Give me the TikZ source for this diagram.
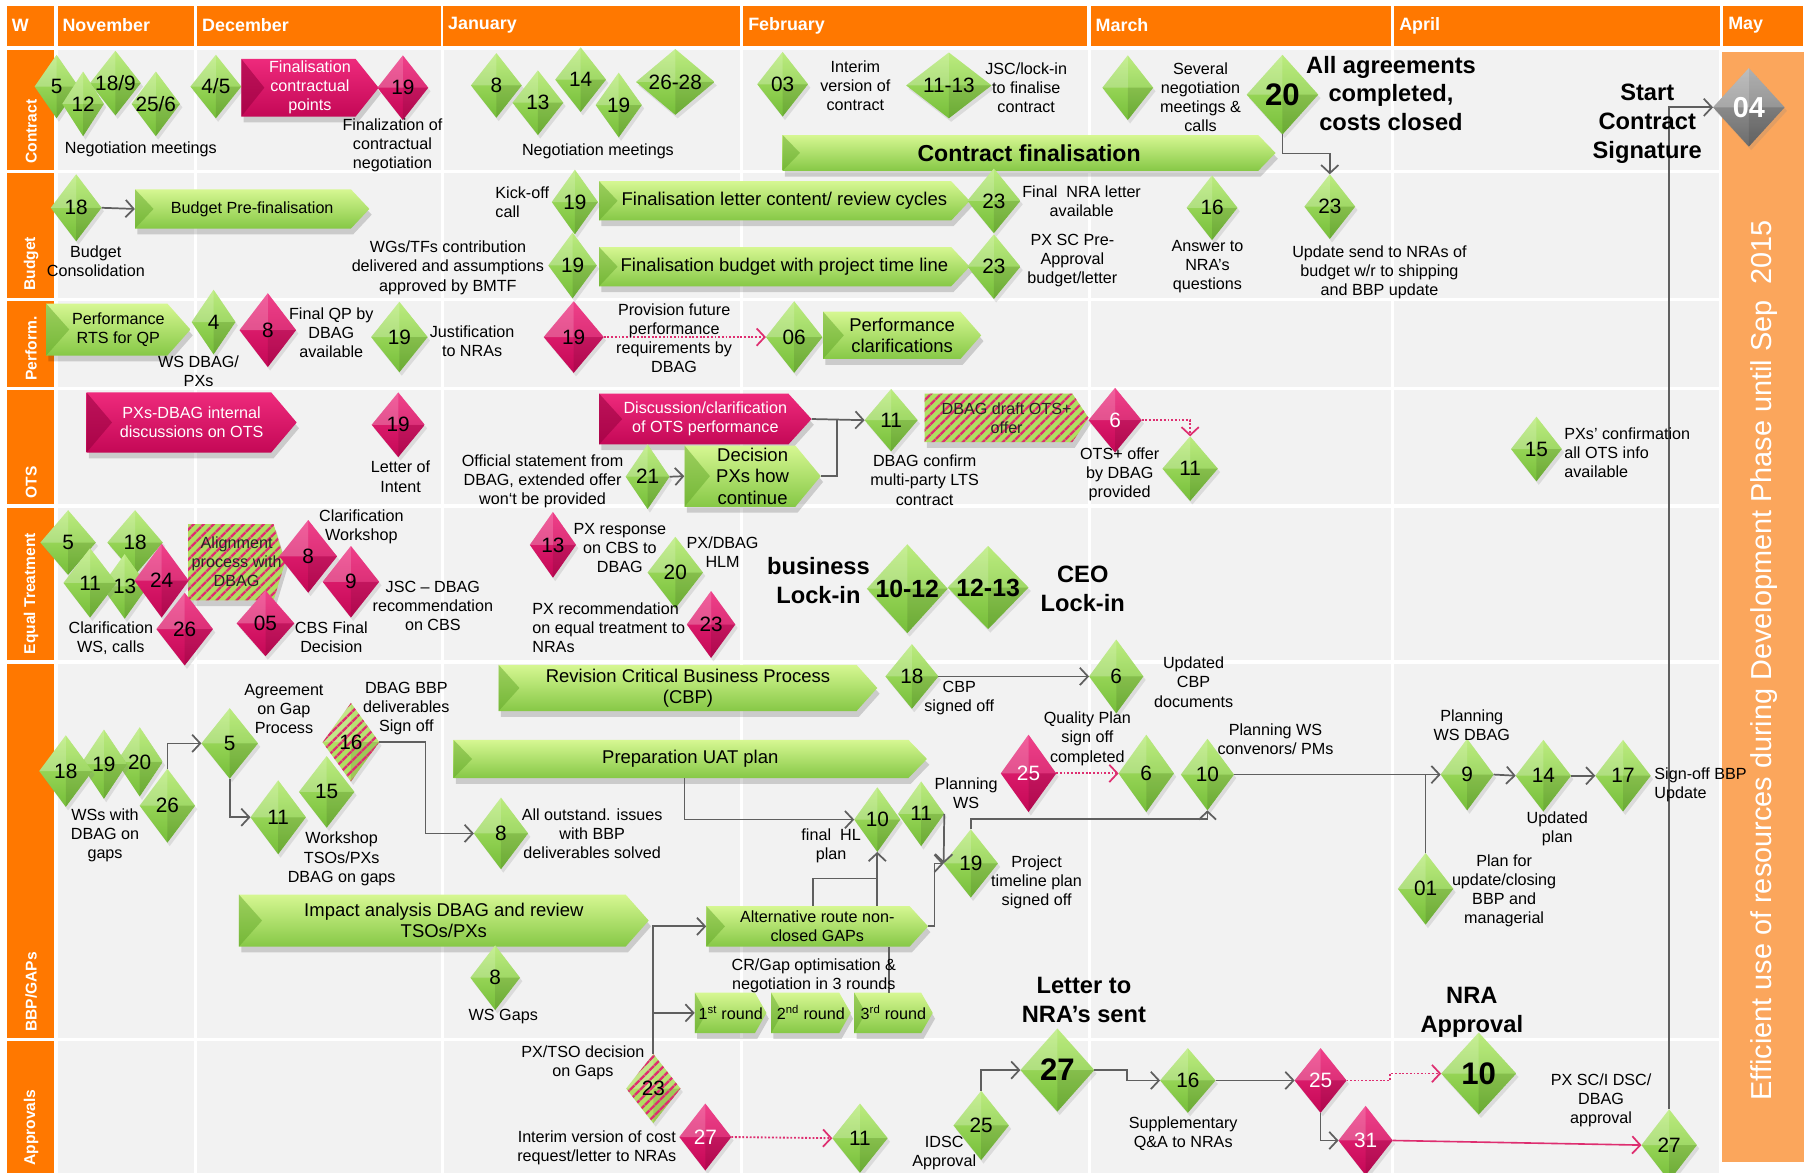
\documentclass[tikz,border=0pt]{standalone}
\usepackage{fontspec}
\setmainfont{Liberation Sans}
\usetikzlibrary{shapes.geometric,arrows.meta,patterns.meta,shadows,calc}

\definecolor{hdr}{RGB}{255,120,0}
\definecolor{barc}{RGB}{251,166,92}
\definecolor{bgc}{RGB}{242,242,242}
\definecolor{gtop}{RGB}{180,234,112}
\definecolor{gbot}{RGB}{118,190,58}
\definecolor{gbtop}{RGB}{214,247,146}
\definecolor{gbbot}{RGB}{134,200,70}
\definecolor{gbev}{RGB}{100,168,42}
\definecolor{mtop}{RGB}{238,42,124}
\definecolor{mbot}{RGB}{196,8,86}
\definecolor{mbev}{RGB}{150,0,62}
\definecolor{hgr}{RGB}{176,222,98}
\definecolor{hmg}{RGB}{222,46,112}
\definecolor{cgray}{RGB}{95,95,95}
\definecolor{gytop}{RGB}{168,168,168}
\definecolor{gybot}{RGB}{108,108,108}

\newcommand\qfA{\fontsize{14}{16.5}\selectfont}
\newcommand\qfB{\fontsize{16}{18.5}\selectfont}
\newcommand\qfC{\fontsize{20}{24}\selectfont\bfseries}
\newcommand\qfBig{\fontsize{20.5}{25}\selectfont\bfseries}

% diamond: style, label style, name, x, y, w, h, text
\newcommand\dia[8]{\node[#1, minimum width=#6pt, minimum height=#7pt, label={[#2]center:#8}] (#3) at (#4,#5) {};}
% box: type, name, x1, y1, x2, y2, point, font, text
\newcommand\bx[9]{%
 \fill[black,opacity=.16] ({#3+2},{#4+5}) -- ({#5-#7+2},{#4+5}) -- ({#5+2},{(#4+#6)/2+5}) -- ({#5-#7+2},{#6+5}) -- ({#3+2},{#6+5}) -- cycle;
 \path[#1fill] (#3,#4) -- ({#5-#7},#4) -- (#5,{(#4+#6)/2}) -- ({#5-#7},#6) -- (#3,#6) -- cycle;
 \fill[#1bev] (#3,#4) -- ({#3+#7},{(#4+#6)/2}) -- (#3,#6) -- cycle;
 \node[#1txt, font=#8, minimum width={#5-#3}, minimum height={#6-#4}] (#2) at ({(#3+#5)/2},{(#4+#6)/2}) {#9};}

\tikzset{
 facets/.style={path picture={
   \fill[white,opacity=.25] (path picture bounding box.center) -- (path picture bounding box.north) -- (path picture bounding box.west) -- cycle;
   \fill[white,opacity=.1] (path picture bounding box.center) -- (path picture bounding box.north) -- (path picture bounding box.east) -- cycle;
   \fill[black,opacity=.1] (path picture bounding box.center) -- (path picture bounding box.south) -- (path picture bounding box.east) -- cycle;}},
 dbase/.style={diamond, inner sep=0pt, outer sep=0pt, draw=none, facets,
   drop shadow={shadow xshift=2pt, shadow yshift=-3pt, opacity=.2}},
 gd/.style={dbase, top color=gtop, bottom color=gbot},
 md/.style={dbase, top color=mtop, bottom color=mbot},
 hd/.style={dbase, fill=hgr, postaction={pattern={Lines[angle=45,distance=6.5pt,line width=2.4pt]}, pattern color=hmg}},
 gyd/.style={dbase, top color=gytop, bottom color=gybot},
 nl/.style={font=\fontsize{18}{18}\selectfont, text=black, inner sep=0pt},
 wl/.style={font=\fontsize{18}{18}\selectfont, text=white, inner sep=0pt},
 bigl/.style={font=\fontsize{27}{27}\selectfont\bfseries, text=black, inner sep=0pt},
 midl/.style={font=\fontsize{21.5}{22}\selectfont\bfseries, text=black, inner sep=0pt},
 gyl/.style={font=\fontsize{25}{25}\selectfont\bfseries, text=white, inner sep=0pt},
 gbfill/.style={top color=gbtop, bottom color=gbbot},
 gbbev/.style={fill=gbev, opacity=.5},
 gbtxt/.style={align=center, inner sep=0pt, text=black},
 mbfill/.style={top color=mtop, bottom color=mbot},
 mbbev/.style={fill=mbev, opacity=.55},
 mbtxt/.style={align=center, inner sep=0pt, text=white},
 hbfill/.style={fill=hgr, postaction={pattern={Lines[angle=45,distance=6.5pt,line width=2.4pt]}, pattern color=hmg}},
 hbbev/.style={fill=black, opacity=0},
 hbtxt/.style={align=center, inner sep=0pt, text=black!85},
 txt/.style={font=\qfA, align=center, inner sep=0pt, text=black},
 bigtxt/.style={font=\qfBig, align=center, inner sep=0pt, text=black},
 hdrtxt/.style={font=\fontsize{15.5}{16}\selectfont\bfseries, text=white, inner sep=0pt, anchor=west},
 lanetxt/.style={font=\fontsize{13.5}{14}\selectfont\bfseries, text=white, inner sep=0pt, rotate=90, anchor=west},
 line/.style={draw=cgray, line width=1.5pt},
 conn/.style={line, -{Straight Barb[length=7pt,width=15pt,line width=1.5pt]}},
 mdot/.style={draw=hmg, line width=1.6pt, dash pattern=on 1.6pt off 1.6pt, -{Straight Barb[length=7pt,width=15pt,line width=1.5pt]}},
 mline/.style={draw=hmg, line width=1.4pt, -{Straight Barb[length=7pt,width=15pt,line width=1.5pt]}},
}

\begin{document}
\begin{tikzpicture}[x=1pt,y=-1pt]
\useasboundingbox (0,0) rectangle (1568,1016);
\fill[white] (0,0) rectangle (1568,1016);
\fill[bgc] (50,43) rectangle (1489,1016);
\foreach \yy in {148.5,259.5,336.5,438.5,573.5,900.5} \draw[white,line width=3pt] (50,\yy) -- (1489,\yy);
\foreach \xx in {169.5,383,642.5,943.5,1206.5} \draw[white,line width=2.5pt] (\xx,43) -- (\xx,1016);

% header
\foreach \a/\b/\t in {6/47/W,50/168/November,171/382/December,384/641/January,644/942/February,945/1205/March,1208/1490/April,1493/1562/May}{
  \fill[hdr] (\a,5) rectangle (\b,40);
  \node[hdrtxt] (hd\t) at ({\a+4},22) {\t};}

% lanes
\fill[hdr] (6,43) rectangle (47,147);   \node[lanetxt] (ln1) at (27,142) {Contract};
\fill[hdr] (6,150) rectangle (47,258);  \node[lanetxt] (ln2) at (27,252) {Budget};
\fill[hdr] (6,261) rectangle (47,335);  \node[lanetxt] (ln3) at (27,330) {Perform.};
\fill[hdr] (6,338) rectangle (47,437);  \node[lanetxt] (ln4) at (27,432) {OTS};
\fill[hdr] (6,440) rectangle (47,572);  \node[lanetxt] (ln5) at (27,567) {Equal Treatment};
\fill[hdr] (6,575) rectangle (47,899);  \node[lanetxt] (ln6) at (27,894) {BBP/GAPs};
\fill[hdr] (6,902) rectangle (47,1016); \node[lanetxt] (ln7) at (27,1010) {Approvals};

% right bar
\fill[barc] (1492,45) rectangle (1563,1007);
\node[rotate=90, font=\fontsize{25}{25}\selectfont, text=white, inner sep=0pt] (barTxt) at (1528,572) {Efficient use of resources during Development Phase until Sep~ 2015};

% ---------- Contract ----------
\dia{gd}{nl}{c5}{49}{75}{38}{55}{5}
\dia{gd}{nl}{c189}{100}{72}{44}{56}{18/9}
\dia{gd}{nl}{c12}{72}{90}{36}{56}{12}
\dia{gd}{nl}{c256}{135}{90}{42}{56}{25/6}
\dia{gd}{nl}{c45}{187}{75}{44}{55}{4/5}
\bx{mb}{cFin}{209}{51}{328}{101}{20}{\qfA}{Finalisation\\contractual\\points}
\dia{md}{nl}{c19}{349}{76}{44}{56}{19}
\dia{gd}{nl}{c8}{430}{74}{44}{56}{8}
\dia{gd}{nl}{c14}{503}{69}{44}{56}{14}
\dia{gd}{nl}{c13}{466}{89}{44}{56}{13}
\dia{gd}{nl}{c19b}{536}{91}{40}{56}{19}
\dia{gd}{nl}{c2628}{585}{71}{68}{57}{26-28}
\dia{gd}{nl}{c03}{678}{73}{44}{56}{03}
\dia{gd}{nl}{c1113}{822}{74}{74}{57}{11-13}
\dia{gd}{nl}{cX}{977}{76}{44}{56}{}
\bx{gb}{cFinal}{678}{117}{1105}{148}{15}{\qfC}{Contract finalisation}
\dia{gd}{bigl}{c20}{1111}{82}{62}{69}{20}
\dia{gyd}{gyl}{d04}{1515}{93}{62}{68}{04}

% ---------- Budget ----------
\dia{gd}{nl}{b18}{66}{180}{44}{58}{18}
\bx{gb}{bPre}{117}{164}{320}{198}{16}{\qfA}{Budget Pre-finalisation}
\bx{gb}{bLet}{519}{157}{840}{191}{16}{\qfB}{Finalisation letter content/ review cycles}
\bx{gb}{bBud}{519}{214}{840}{248}{16}{\qfB}{Finalisation budget with project time line}
\dia{gd}{nl}{b19a}{498}{175}{40}{56}{19}
\dia{gd}{nl}{b19b}{496}{230}{42}{57}{19}
\dia{gd}{nl}{b23a}{861}{174}{46}{56}{23}
\dia{gd}{nl}{b23b}{861}{231}{46}{56}{23}
\dia{gd}{nl}{b16}{1050}{180}{44}{56}{16}
\dia{gd}{nl}{b23c}{1152}{179}{44}{56}{23}

% ---------- Perform ----------
\bx{gb}{pRTS}{40}{263}{165}{308}{20}{\qfA}{Performance\\RTS for QP}
\dia{gd}{nl}{p4}{185}{279}{38}{56}{4}
\dia{md}{nl}{p8m}{232}{286}{49}{64}{8}
\dia{gd}{nl}{p19}{346}{292}{49}{61}{19}
\dia{md}{nl}{p19m}{497}{292}{52}{62}{19}
\dia{gd}{nl}{p06}{688}{292}{49}{62}{06}
\bx{gb}{pClar}{713}{270}{850}{311}{18}{\qfB}{Performance\\clarifications}

% ---------- OTS ----------
\bx{mb}{oPX}{75}{340}{257}{392}{22}{\qfA}{PXs-DBAG internal\\discussions on OTS}
\dia{md}{nl}{o19m}{345}{368}{46}{56}{19}
\bx{mb}{oDisc}{519}{341}{703}{385}{20}{\qfA}{Discussion/clarification\\of OTS performance}
\bx{gb}{oDec}{593}{386}{711}{439}{22}{\qfB}{Decision\\PXs how\\continue}
\dia{gd}{nl}{o21}{561}{413}{38}{56}{21}
\dia{gd}{nl}{o11}{772}{364}{46}{54}{11}
\bx{hb}{oDraft}{801}{341}{943}{383}{14}{\qfA}{DBAG draft OTS+\\offer}
\dia{md}{wl}{o6m}{966}{364}{46}{56}{6}
\dia{gd}{nl}{o11b}{1031}{406}{48}{56}{11}
\dia{gd}{nl}{o15}{1331}{389}{44}{56}{15}

% ---------- Equal Treatment ----------
\dia{gd}{nl}{e5}{59}{470}{48}{56}{5}
\dia{gd}{nl}{e18}{117}{470}{48}{56}{18}
\dia{gd}{nl}{e13}{108}{508}{40}{56}{13}
\dia{gd}{nl}{e11}{78}{505}{46}{60}{11}
\bx{hb}{eAlign}{163}{454}{247}{520}{10}{\qfA}{Alignment\\process with\\DBAG}
\dia{md}{nl}{e24m}{140}{503}{47}{64}{24}
\dia{md}{nl}{e26m}{160}{545}{49}{63}{26}
\dia{md}{nl}{e8m}{267}{482}{50}{63}{8}
\dia{md}{nl}{e9m}{304}{504}{49}{62}{9}
\dia{md}{nl}{e05m}{230}{540}{50}{57}{05}
\dia{md}{nl}{e13m}{479}{472}{40}{57}{13}
\dia{gd}{nl}{e20}{585}{496}{48}{62}{20}
\dia{md}{nl}{e23m}{616}{541}{42}{58}{23}
\dia{gd}{midl}{e1012}{786}{510}{70}{77}{10-12}
\dia{gd}{midl}{e1213}{856}{509}{70}{72}{12-13}

% ---------- BBP/GAPs ----------
\bx{gb}{gCBP}{432}{576}{760}{616}{18}{\qfB}{Revision Critical Business Process\\(CBP)}
\bx{gb}{gUAT}{393}{641}{803}{674}{16}{\qfB}{Preparation UAT plan}
\bx{gb}{gImp}{207}{775}{562}{820}{20}{\qfB}{Impact analysis DBAG and review\\TSOs/PXs}
\bx{gb}{gAlt}{612}{785}{804}{820}{16}{\qfA}{Alternative route non-\\closed GAPs}
\bx{gb}{r1}{602}{860}{664}{895}{10}{\qfA}{1\textsuperscript{st} round}
\bx{gb}{r2}{668}{860}{737}{895}{10}{\qfA}{2\textsuperscript{nd} round}
\bx{gb}{r3}{740}{860}{808}{895}{10}{\qfA}{3\textsuperscript{rd} round}
\dia{gd}{nl}{g20}{121}{660}{40}{60}{20}
\dia{gd}{nl}{g19}{90}{662}{40}{60}{19}
\dia{gd}{nl}{g18}{57}{668}{46}{62}{18}
\dia{gd}{nl}{g26}{145}{698}{48}{64}{26}
\dia{gd}{nl}{g5}{199}{644}{49}{61}{5}
\dia{gd}{nl}{g11}{241}{708}{48}{64}{11}
\dia{gd}{nl}{g15}{283}{686}{48}{62}{15}
\dia{hd}{nl}{g16h}{304}{643}{49}{68}{16}
\dia{gd}{nl}{g8}{434}{722}{47}{62}{8}
\dia{gd}{nl}{g8b}{429}{847}{43}{56}{8}
\dia{gd}{nl}{g18c}{790}{586}{46}{56}{18}
\dia{gd}{nl}{g6c}{967}{586}{47}{64}{6}
\dia{gd}{nl}{g10}{760}{710}{40}{56}{10}
\dia{gd}{nl}{g11b}{798}{705}{40}{56}{11}
\dia{gd}{nl}{g19b}{841}{748}{47}{59}{19}
\dia{md}{wl}{m25}{891}{670}{48}{67}{25}
\dia{gd}{nl}{m6}{993}{670}{48}{67}{6}
\dia{gd}{nl}{m10}{1046}{671}{46}{62}{10}
\dia{gd}{nl}{a9}{1271}{671}{46}{62}{9}
\dia{gd}{nl}{a14}{1337}{672}{48}{62}{14}
\dia{gd}{nl}{a17}{1406}{672}{48}{62}{17}
\dia{gd}{nl}{a01}{1235}{770}{48}{62}{01}

% ---------- Approvals ----------
\dia{hd}{nl}{a23h}{566}{943}{47}{60}{23}
\dia{md}{wl}{a27m}{611}{985}{45}{58}{27}
\dia{gd}{nl}{a11}{745}{986}{48}{60}{11}
\dia{gd}{nl}{a25}{850}{975}{48}{60}{25}
\dia{gd}{bigl}{A27}{916}{927}{64}{72}{27}
\dia{gd}{nl}{a16}{1029}{936}{48}{56}{16}
\dia{md}{wl}{a25m}{1144}{936}{45}{56}{25}
\dia{gd}{bigl}{A10}{1281}{930}{65}{71}{10}
\dia{md}{wl}{a31m}{1183}{988}{47}{60}{31}
\dia{gd}{nl}{a27r}{1446}{992}{48}{62}{27}

% ---------- connectors ----------
\draw[conn] (b18.east) -- (bPre.west);
\draw[conn] (c20.south) -- (c20.south |- 0,133) -| (b23c.north);
\draw[conn] (a27r.north) |- (d04.west);
\draw[mdot] (p19m.east) -- (p06.west);
\draw[conn] (oDisc.east) -- (o11.west);
\draw[line] (oDec.east) -| ([xshift=-24pt]o11.west);
\draw[conn] (o21.east) -- (oDec.west);
\draw[mdot] (o6m.east) -| (o11b.north);
\draw[conn] (g26.north) |- (g5.west);
\draw[conn] (g5.south) |- (g11.west);
\draw[conn] (g16h.east) -- ++(40,0) |- (g8.west);
\draw[conn] (g18c.east) -- (g6c.west);
\draw[conn] ([xshift=-5pt]gUAT.south) |- (g10.west);
\draw[conn] (g11b.east) -- (g19b.west);
\draw[conn] (gAlt.east) -| ([xshift=-8pt]g19b.west) -- (g19b.west);
\coordinate (jAlt) at (g10.south |- 0,761);
\draw[line] ([xshift=-4pt]gAlt.north) |- (jAlt);
\draw[conn] (gAlt.north -| g10.south) -- (g10.south);
\draw[line] ([xshift=-4pt]r3.north) -- ([xshift=-4pt]r3.north |- gAlt.south);
\draw[conn] (a23h.north) |- (gAlt.west);
\draw[conn] (a23h.north |- r1.west) -- (r1.west);
\draw[conn] (g19b.north) -- ++(0,-9) -| (m10.south);
\draw[mdot] (m25.east) -- (m6.west);
\draw[conn] (m10.east) -- (a9.west);
\draw[line] (a01.north) -- (a01.north |- a9.west);
\draw[conn] (a9.east) -- (a14.west);
\draw[conn] (a14.east) -- (a17.west);
\draw[mdot] (a27m.east) -- (a11.west);
\draw[conn] (a25.north) |- (A27.west);
\draw[conn] (A27.east) -- ++(28,0) |- (a16.west);
\draw[conn] (a16.east) -- (a25m.west);
\draw[mdot] (a25m.east) -- ++(38,0) |- (A10.west);
\draw[conn] (a25m.south) |- (a31m.west);
\draw[mline] (a31m.east) -- (a27r.west);

% ---------- texts ----------
\node[txt] (t1) at (122,129) {Negotiation meetings};
\node[txt] (t2) at (340,126) {Finalization of\\contractual\\negotiation};
\node[txt] (t3) at (518,131) {Negotiation meetings};
\node[txt] (t4) at (741,74) {Interim\\version of\\contract};
\node[txt] (t5) at (889,76) {JSC/lock-in\\to finalise\\contract};
\node[txt] (t6) at (1040,84) {Several\\negotiation\\meetings \&\\calls};
\node[bigtxt] (t7) at (1205,81) {All agreements\\completed,\\costs closed};
\node[bigtxt] (t8) at (1427,107) {Start\\Contract\\Signature};

\node[txt] (t9) at (83,226) {Budget\\Consolidation};
\node[txt, align=left, anchor=west] (t10) at (429,175) {Kick-off\\call};
\node[txt] (t11) at (388,232) {WGs/TFs contribution\\delivered and assumptions\\approved by BMTF};
\node[txt] (t12) at (937,174) {Final~ NRA letter\\available};
\node[txt] (t13) at (929,226) {PX SC Pre-\\Approval\\budget/letter};
\node[txt] (t14) at (1046,231) {Answer to\\NRA’s\\questions};
\node[txt] (t15) at (1195,236) {Update send to NRAs of\\budget w/r to shipping\\and BBP update};

\node[txt] (t16) at (172,322) {WS DBAG/\\PXs};
\node[txt] (t17) at (287,288) {Final QP by\\DBAG\\available};
\node[txt] (t18) at (409,296) {Justification\\to NRAs};
\node[txt] (t19) at (584,293) {Provision future\\performance\\requirements by\\DBAG};

\node[txt] (t20) at (347,413) {Letter of\\Intent};
\node[txt] (t21) at (470,417) {Official statement from\\DBAG, extended offer\\won‘t be provided};
\node[txt] (t22) at (801,416) {DBAG confirm\\multi-party LTS\\contract};
\node[txt] (t23) at (970,411) {OTS+ offer\\by DBAG\\provided};
\node[txt, align=left, anchor=west] (t24) at (1355,392) {PXs’ confirmation\\all OTS info\\available};

\node[txt] (t25) at (96,553) {Clarification\\WS, calls};
\node[txt] (t26) at (313,456) {Clarification\\Workshop};
\node[txt] (t27) at (375,525) {JSC – DBAG\\recommendation\\on CBS};
\node[txt] (t28) at (287,552) {CBS Final\\Decision};
\node[txt] (t29) at (537,475) {PX response\\on CBS to\\DBAG};
\node[txt] (t30) at (626,478) {PX/DBAG\\HLM};
\node[txt, align=left, anchor=west] (t31) at (461,544) {PX recommendation\\on equal treatment to\\NRAs};
\node[bigtxt] (t32) at (709,503) {business\\Lock-in};
\node[bigtxt] (t33) at (938,510) {CEO\\Lock-in};

\node[txt] (t34) at (831,605) {CBP\\signed off};
\node[txt] (t35) at (1034,591) {Updated\\CBP\\documents};
\node[txt] (t36) at (246,614) {Agreement\\on Gap\\Process};
\node[txt] (t37) at (352,614) {DBAG BBP\\deliverables\\Sign off};
\node[txt] (t38) at (91,724) {WSs with\\DBAG on\\gaps};
\node[txt] (t39) at (296,744) {Workshop\\TSOs/PXs\\DBAG on gaps};
\node[txt] (t40) at (513,722) {All outstand. issues\\with BBP\\deliverables solved};
\node[txt] (t41) at (837,687) {Planning\\WS};
\node[txt] (t42) at (720,733) {final~ HL\\plan};
\node[txt] (t43) at (898,764) {Project\\timeline plan\\signed off};
\node[txt] (t44) at (942,640) {Quality Plan\\sign off\\completed};
\node[txt] (t45) at (1105,640) {Planning WS\\convenors/ PMs};
\node[txt] (t46) at (1275,628) {Planning\\WS DBAG};
\node[txt] (t47) at (1349,718) {Updated\\plan};
\node[txt, align=left, anchor=west] (t48) at (1433,680) {Sign-off BBP\\Update};
\node[txt] (t49) at (1303,772) {Plan for\\update/closing\\BBP and\\managerial};
\node[txt] (t50) at (436,881) {WS Gaps};
\node[txt] (t51) at (705,845) {CR/Gap optimisation \&\\negotiation in 3 rounds};

\node[txt] (t52) at (505,921) {PX/TSO decision\\on Gaps};
\node[txt] (t53) at (517,994) {Interim version of cost\\request/letter to NRAs};
\node[txt] (t54) at (818,999) {IDSC\\Approval};
\node[bigtxt] (t55) at (939,866) {Letter to\\NRA’s sent};
\node[txt] (t56) at (1025,982) {Supplementary\\Q\&A to NRAs};
\node[bigtxt] (t57) at (1275,877) {NRA\\Approval};
\node[txt] (t58) at (1387,953) {PX SC/I DSC/\\DBAG\\approval};
\end{tikzpicture}
\end{document}
